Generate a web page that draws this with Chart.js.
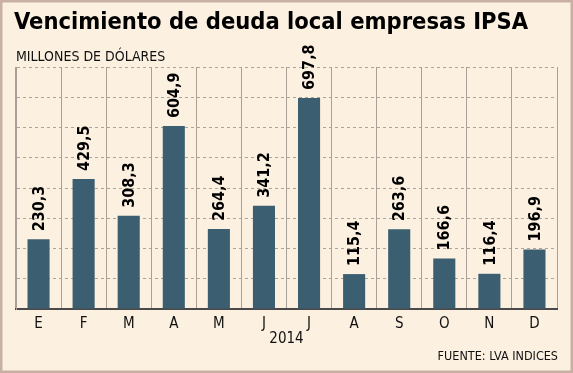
<!DOCTYPE html>
<html lang="es">
<head>
  <meta charset="UTF-8" />
  <title>Vencimiento de deuda local empresas IPSA</title>
  <script src="https://cdn.jsdelivr.net/npm/chart.js"></script>
  <style>
    html, body { margin: 0; padding: 0; background: #fcf0e0; }
    #wrap { width: 573px; height: 373px; }
  </style>
</head>
<body>
  <div id="wrap"><canvas id="chart" width="573" height="373"></canvas></div>
  <script>
    const meses = ['E', 'F', 'M', 'A', 'M', 'J', 'J', 'A', 'S', 'O', 'N', 'D'];
    const montos = [230.3, 429.5, 308.3, 604.9, 264.4, 341.2, 697.8, 115.4, 263.6, 166.6, 116.4, 196.9];
    const etiquetas = ['230,3', '429,5', '308,3', '604,9', '264,4', '341,2', '697,8', '115,4', '263,6', '166,6', '116,4', '196,9'];

    const titulo = 'Vencimiento de deuda local empresas IPSA';
    const unidad = 'MILLONES DE DÓLARES';
    const fuente = 'FUENTE: LVA INDICES';

    // fondo, marco y textos sueltos
    const textos = {
      id: 'textos',
      beforeDraw(chart) {
        const ctx = chart.ctx;
        ctx.save();
        ctx.fillStyle = '#fcf0e0';
        ctx.fillRect(0, 0, chart.width, chart.height);
        ctx.strokeStyle = '#c8b0a6';
        ctx.lineWidth = 2.5;
        ctx.strokeRect(1.25, 1.25, chart.width - 2.5, chart.height - 2.5);
        ctx.restore();
      },
      afterDraw(chart) {
        const ctx = chart.ctx;
        ctx.save();
        ctx.fillStyle = '#000';
        ctx.textBaseline = 'alphabetic';
        ctx.textAlign = 'left';
        ctx.font = 'bold 23.5px "DejaVu Sans Condensed"';
        ctx.fillText(titulo, 14, 29);
        ctx.font = '14px "DejaVu Sans Condensed"';
        ctx.fillStyle = '#111';
        ctx.fillText(unidad, 16, 61);
        ctx.font = '12.5px "DejaVu Sans Condensed"';
        ctx.textAlign = 'right';
        ctx.fillText(fuente, 558, 360);

        // valores sobre las barras
        const meta = chart.getDatasetMeta(0);
        ctx.font = 'bold 16px "DejaVu Sans Condensed"';
        ctx.fillStyle = '#000';
        ctx.textAlign = 'left';
        ctx.textBaseline = 'middle';
        meta.data.forEach((bar, i) => {
          ctx.save();
          ctx.translate(bar.x, bar.y - 8);
          ctx.rotate(-Math.PI / 2);
          ctx.fillText(etiquetas[i], 0, 1);
          ctx.restore();
        });
        ctx.restore();
      }
    };

    new Chart(document.getElementById('chart'), {
      type: 'bar',
      data: {
        labels: meses,
        datasets: [{
          data: montos,
          backgroundColor: '#3b5f70',
          barPercentage: 0.49,
          categoryPercentage: 1
        }]
      },
      options: {
        responsive: false,
        animation: false,
        layout: { padding: { top: 67, left: 16, right: 16, bottom: 0 } },
        plugins: {
          legend: { display: false },
          tooltip: { enabled: false }
        },
        scales: {
          x: {
            afterFit: s => { s.height = 64; },
            grid: { color: '#a8a096', lineWidth: 1, drawTicks: false },
            border: { color: '#4a4a4a', width: 2 },
            ticks: {
              color: '#111',
              padding: 6,
              font: { family: '"DejaVu Sans Condensed"', size: 15 }
            },
            title: {
              display: true,
              text: '2014',
              color: '#111',
              padding: { top: 0, bottom: 25 },
              font: { family: '"DejaVu Sans Condensed"', size: 15 }
            }
          },
          y: {
            min: 0,
            max: 800,
            afterFit: s => { s.width = 0; },
            ticks: { display: false, stepSize: 100 },
            grid: { color: '#aaa49a', lineWidth: 1, drawTicks: false },
            border: { color: '#a8a096', width: 1, dash: [3, 3] }
          }
        }
      },
      plugins: [textos]
    });
  </script>
</body>
</html>
